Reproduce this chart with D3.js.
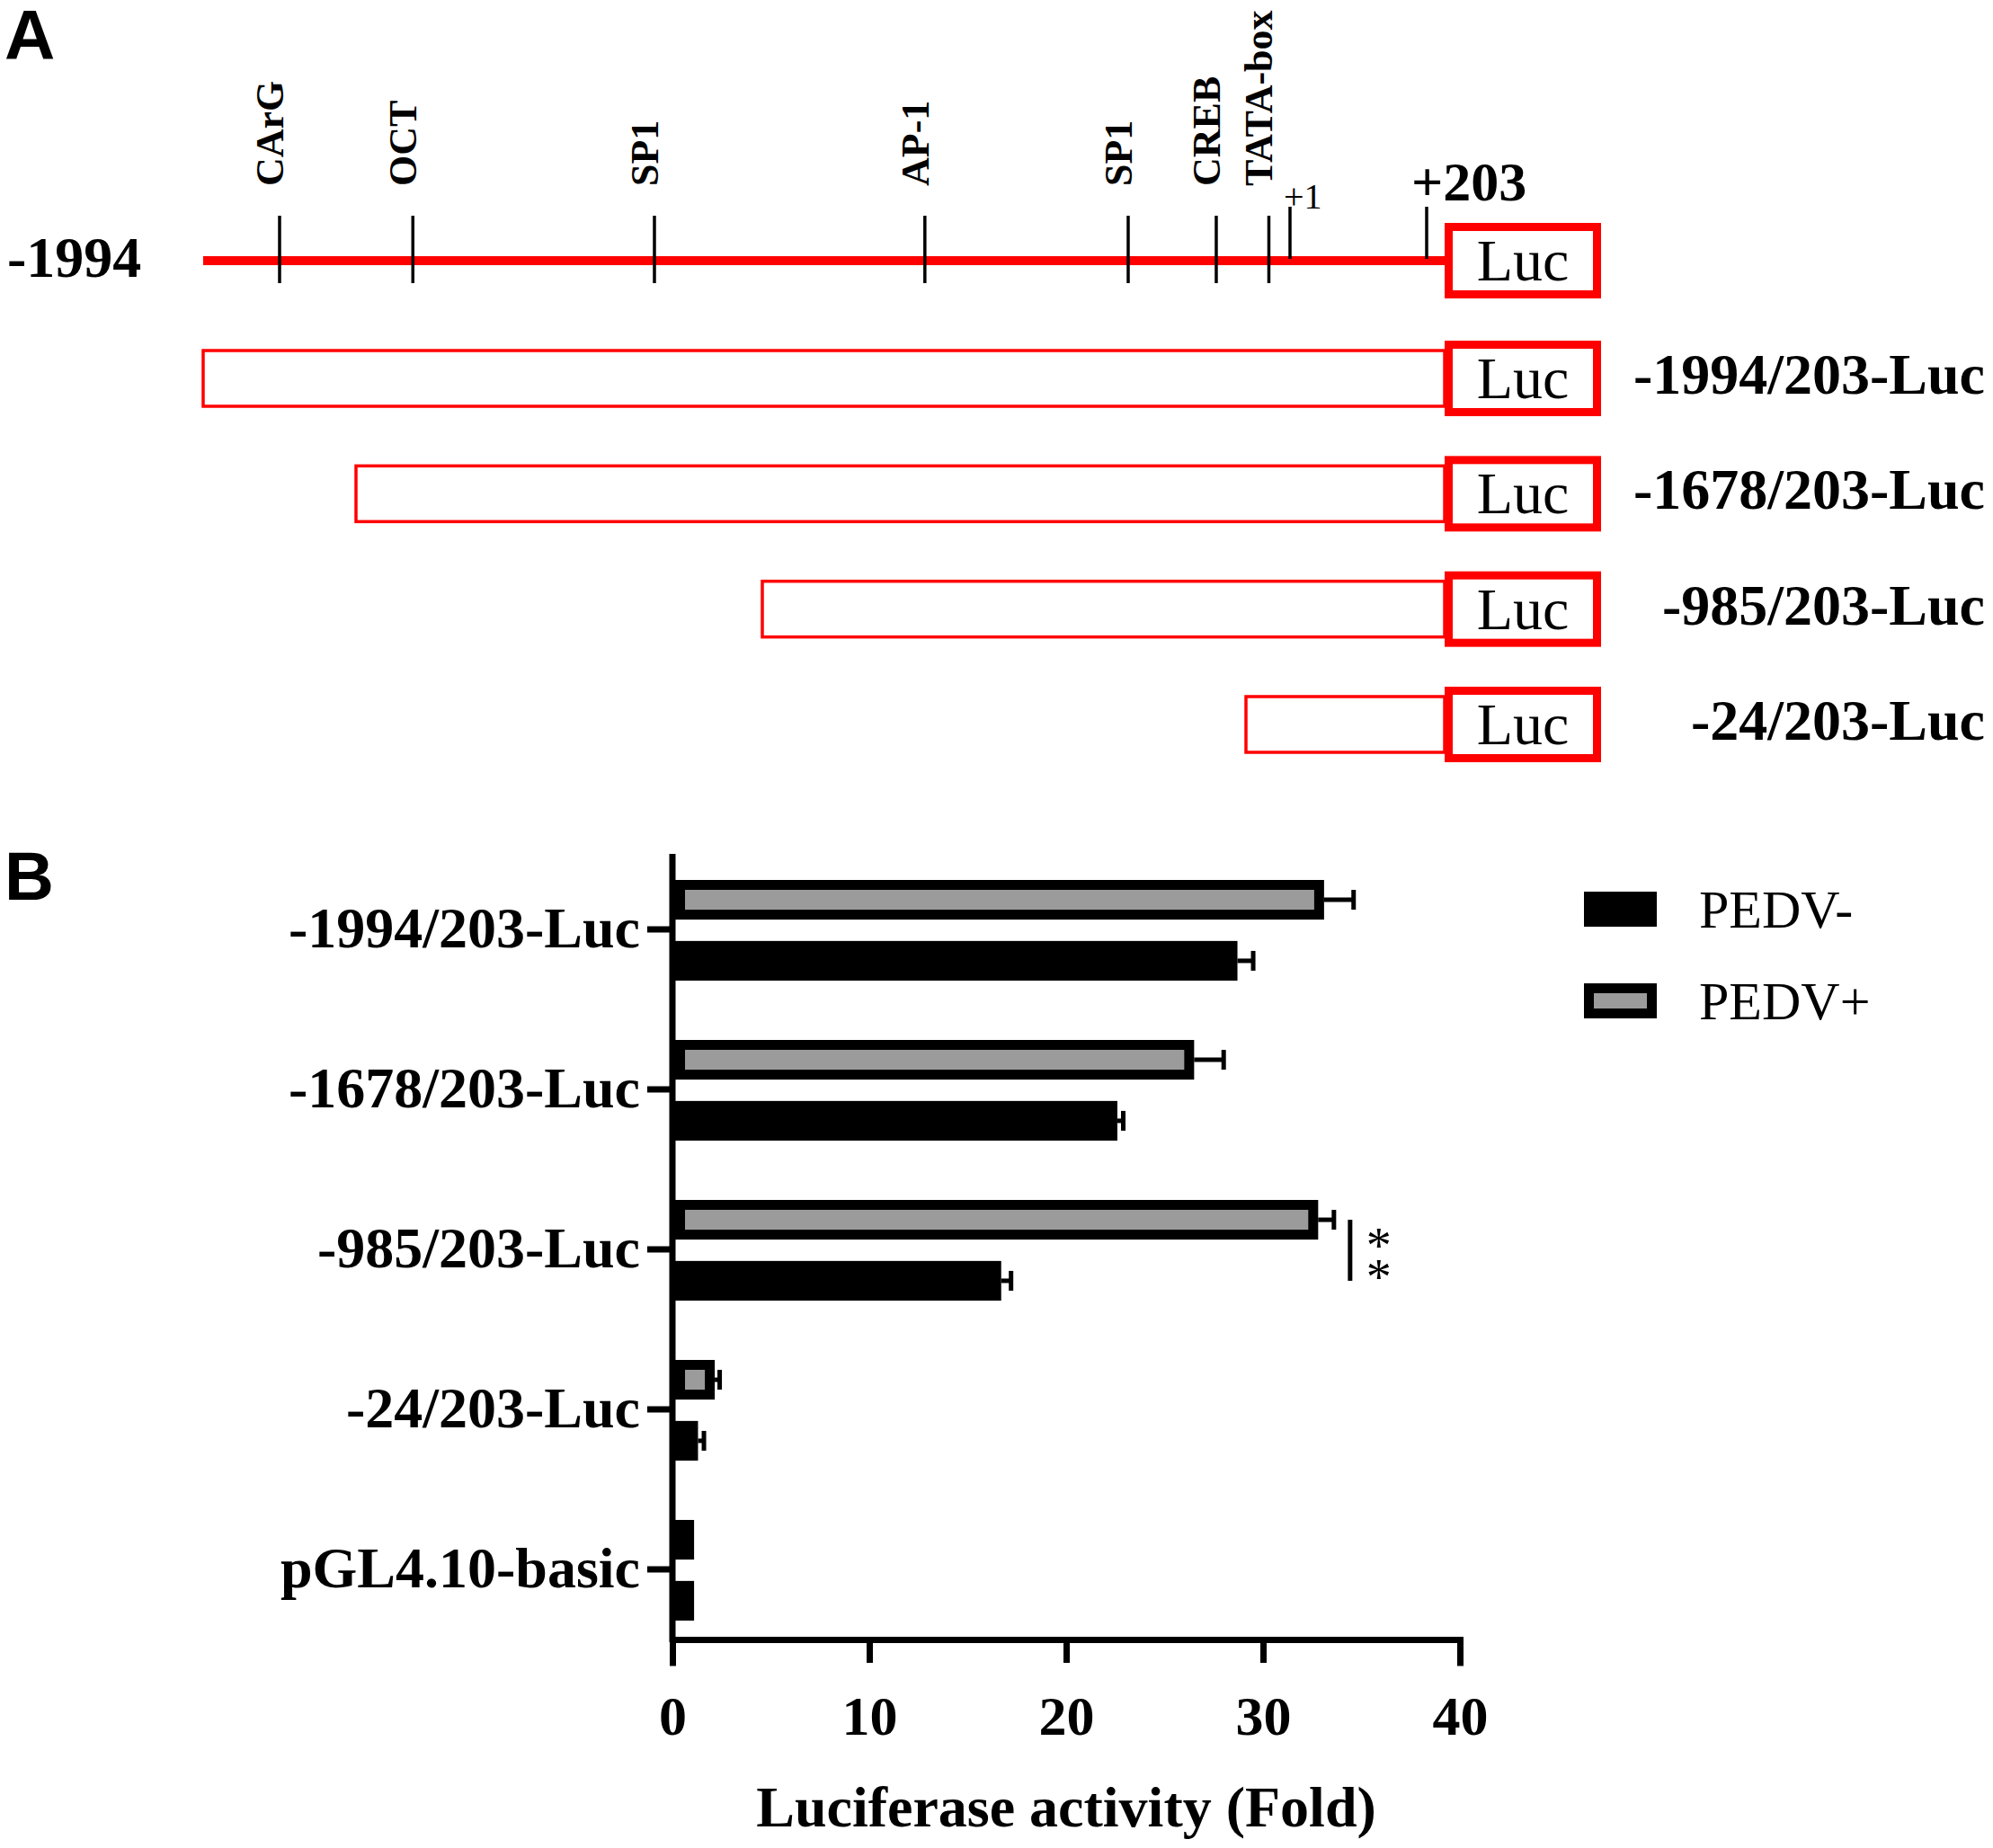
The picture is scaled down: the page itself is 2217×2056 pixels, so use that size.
<!DOCTYPE html>
<html>
<head>
<meta charset="utf-8">
<script src="https://cdn.jsdelivr.net/npm/d3@7"></script>
<style>
  body { margin: 0; background: #fff; }
  svg { display: block; }
  text { font-family: "Liberation Serif", "Times New Roman", serif; fill: #000; }
</style>
</head>
<body>
<svg></svg>
<script>
// ---- Panel A: promoter map ----
const mapEnd = 203;
const siteNames = ["CArG", "OCT", "SP1", "AP-1", "SP1", "CREB", "TATA-box"];
const sitePositions = [-1836, -1581, -1169, -662, -258, -83, -11];
const constructNames = ["-1994/203-Luc", "-1678/203-Luc", "-985/203-Luc", "-24/203-Luc"];
const constructStarts = [-1994, -1678, -985, -24];

// ---- Panel B: luciferase activity ----
const promoterLabels = ["-1994/203-Luc", "-1678/203-Luc", "-985/203-Luc", "-24/203-Luc", "pGL4.10-basic"];
const groups = ["PEDV+", "PEDV-"];
const legendOrder = ["PEDV-", "PEDV+"];
const pedvPlus = [33.1, 26.5, 32.8, 2.15, 1.1];
const pedvPlusErr = [1.5, 1.5, 0.8, 0.25, 0];
const pedvMinus = [28.7, 22.6, 16.7, 1.3, 1.1];
const pedvMinusErr = [0.8, 0.3, 0.5, 0.3, 0];
const xTicks = [0, 10, 20, 30, 40];

function main() {
    const width = 2217;
    const height = 2056;
    const svg = d3.select("svg").attr("width", width).attr("height", height);
    const red = "#ff0000";

    // panel letters
    svg.append("text").text("A").attr("x", 5).attr("y", 66)
        .style("font-family", "'Liberation Sans', Arial, sans-serif")
        .attr("font-weight", "bold").attr("font-size", 78);
    svg.append("text").text("B").attr("x", 5).attr("y", 1001)
        .style("font-family", "'Liberation Sans', Arial, sans-serif")
        .attr("font-weight", "bold").attr("font-size", 76);

    // ---------- Panel A ----------
    // schematic (not to scale) map: piecewise linear between construct ends
    const mapX = d3.scaleLinear()
        .domain([...constructStarts, 1, mapEnd])
        .range([226, 396, 848, 1386, 1435, 1587]);
    const lineY = 290;
    const lucLeft = 1607, lucRight = 1781;

    svg.append("text").text("-1994")
        .attr("x", 8).attr("y", 308)
        .attr("font-weight", "bold").attr("font-size", 64);

    svg.append("line")
        .attr("x1", mapX(constructStarts[0])).attr("x2", lucLeft)
        .attr("y1", lineY).attr("y2", lineY)
        .attr("stroke", red).attr("stroke-width", 10);

    // binding sites
    svg.selectAll(".site").data(siteNames).enter().append("line")
        .attr("class", "site")
        .attr("x1", (d, i) => mapX(sitePositions[i])).attr("x2", (d, i) => mapX(sitePositions[i]))
        .attr("y1", lineY - 50).attr("y2", lineY + 25)
        .attr("stroke", "#000").attr("stroke-width", 3.5);
    svg.selectAll(".siteLabel").data(siteNames).enter().append("text")
        .attr("class", "siteLabel")
        .text(d => d)
        .attr("transform", (d, i) => `translate(${mapX(sitePositions[i]) + 4}, 207) rotate(-90)`)
        .attr("font-weight", "bold").attr("font-size", 44);

    // +1 and +203
    [1, mapEnd].forEach(p => {
        svg.append("line")
            .attr("x1", mapX(p)).attr("x2", mapX(p))
            .attr("y1", 230).attr("y2", lineY - 2)
            .attr("stroke", "#000").attr("stroke-width", 3.5);
    });
    svg.append("text").text("+1")
        .attr("x", mapX(1) - 7).attr("y", 232).attr("font-size", 40);
    svg.append("text").text("+" + mapEnd)
        .attr("x", mapX(mapEnd) - 17).attr("y", 223)
        .attr("font-weight", "bold").attr("font-size", 62);

    function lucBox(cy) {
        svg.append("rect")
            .attr("x", lucLeft + 4.5).attr("y", cy - 42 + 4.5)
            .attr("width", lucRight - lucLeft - 9).attr("height", 84 - 9)
            .attr("fill", "#fff").attr("stroke", red).attr("stroke-width", 9);
        svg.append("text").text("Luc")
            .attr("x", (lucLeft + lucRight) / 2).attr("y", cy + 22)
            .attr("text-anchor", "middle").attr("font-size", 66);
    }
    lucBox(lineY);

    // deletion constructs
    const rowY = d3.scalePoint().domain(constructNames).range([421, 806]);
    constructNames.forEach((name, i) => {
        const cy = rowY(name);
        svg.append("rect")
            .attr("x", mapX(constructStarts[i])).attr("y", cy - 31)
            .attr("width", lucLeft - mapX(constructStarts[i])).attr("height", 62)
            .attr("fill", "#fff").attr("stroke", red).attr("stroke-width", 3.5);
        lucBox(cy);
        svg.append("text").text(name)
            .attr("x", 2208).attr("y", cy + 17)
            .attr("text-anchor", "end")
            .attr("font-weight", "bold").attr("font-size", 64);
    });

    // ---------- Panel B ----------
    const xScale = d3.scaleLinear().domain([0, 40]).range([748, 1624]);
    const yScale = d3.scaleBand().domain(promoterLabels).range([945, 1835]);
    const ySub = d3.scaleBand().domain(groups).range([34, 146]).paddingInner(0.35);
    const axisY = 1824;

    const bars = [];
    promoterLabels.forEach((p, i) => {
        bars.push({ label: p, group: "PEDV+", value: pedvPlus[i], err: pedvPlusErr[i] });
        bars.push({ label: p, group: "PEDV-", value: pedvMinus[i], err: pedvMinusErr[i] });
    });
    const fillOf = g => g === "PEDV+" ? "#9b9b9b" : "#000";
    const bw = 11;

    svg.selectAll(".bar").data(bars).enter().append("rect")
        .attr("class", "bar")
        .attr("x", xScale(0) + bw / 2 + 3)
        .attr("y", d => yScale(d.label) + ySub(d.group) + bw / 2)
        .attr("width", d => Math.max(xScale(d.value) - xScale(0) - bw - 3, 1))
        .attr("height", ySub.bandwidth() - bw)
        .attr("fill", d => fillOf(d.group))
        .attr("stroke", "#000").attr("stroke-width", bw);

    // error bars
    const errs = bars.filter(d => d.err > 0);
    const cyOf = d => yScale(d.label) + ySub(d.group) + ySub.bandwidth() / 2;
    svg.selectAll(".errLine").data(errs).enter().append("line")
        .attr("x1", d => xScale(d.value)).attr("x2", d => xScale(d.value + d.err))
        .attr("y1", cyOf).attr("y2", cyOf)
        .attr("stroke", "#000").attr("stroke-width", 5);
    svg.selectAll(".errCap").data(errs).enter().append("line")
        .attr("x1", d => xScale(d.value + d.err)).attr("x2", d => xScale(d.value + d.err))
        .attr("y1", d => cyOf(d) - 11).attr("y2", d => cyOf(d) + 11)
        .attr("stroke", "#000").attr("stroke-width", 5);

    // axes
    const yAxis = svg.append("g")
        .attr("transform", `translate(${xScale(0)},0)`)
        .call(d3.axisLeft(yScale).tickSize(28).tickPadding(8));
    yAxis.select(".domain").remove();
    yAxis.selectAll("line").attr("stroke-width", 7);
    yAxis.selectAll("text")
        .style("font-family", "'Liberation Serif', 'Times New Roman', serif")
        .attr("font-weight", "bold").attr("font-size", 64);
    svg.append("line")
        .attr("x1", xScale(0)).attr("x2", xScale(0))
        .attr("y1", 950).attr("y2", axisY + 3)
        .attr("stroke", "#000").attr("stroke-width", 7);

    const xAxis = svg.append("g")
        .attr("transform", `translate(0,${axisY})`)
        .call(d3.axisBottom(xScale).tickValues(xTicks).tickSizeOuter(0).tickSize(26).tickPadding(36));
    xAxis.select(".domain").attr("stroke-width", 7).attr("stroke-linecap", "square");
    xAxis.selectAll("line").attr("stroke-width", 7);
    xAxis.selectAll("text")
        .style("font-family", "'Liberation Serif', 'Times New Roman', serif")
        .attr("font-weight", "bold").attr("font-size", 62);

    svg.append("text").text("Luciferase activity (Fold)")
        .attr("x", (xScale(0) + xScale(40)) / 2).attr("y", 2032)
        .attr("text-anchor", "middle")
        .attr("font-weight", "bold").attr("font-size", 64);

    // significance between PEDV+ and PEDV- of -985/203-Luc
    const sigRow = promoterLabels[2];
    const sigX = xScale(pedvPlus[2] + pedvPlusErr[2]) + 18;
    const sigTop = yScale(sigRow) + ySub("PEDV+") + ySub.bandwidth() / 2;
    const sigBot = yScale(sigRow) + ySub("PEDV-") + ySub.bandwidth() / 2;
    svg.append("line")
        .attr("x1", sigX).attr("x2", sigX).attr("y1", sigTop).attr("y2", sigBot)
        .attr("stroke", "#000").attr("stroke-width", 5);
    const stars = svg.append("text")
        .attr("text-anchor", "middle").attr("font-size", 56);
    stars.append("tspan").text("*").attr("x", sigX + 32).attr("y", sigTop + 48);
    stars.append("tspan").text("*").attr("x", sigX + 32).attr("y", sigBot + 15);

    // legend
    const legY = d3.scalePoint().domain(legendOrder).range([1011.5, 1113.5]);
    legendOrder.forEach(g => {
        svg.append("rect")
            .attr("x", 1762 + bw / 2).attr("y", legY(g) - 19.5 + bw / 2)
            .attr("width", 81 - bw).attr("height", 39 - bw)
            .attr("fill", fillOf(g)).attr("stroke", "#000").attr("stroke-width", bw);
        svg.append("text").text(g)
            .attr("x", 1890).attr("y", legY(g) + 20)
            .attr("font-size", 60);
    });
}

main();
</script>
</body>
</html>
